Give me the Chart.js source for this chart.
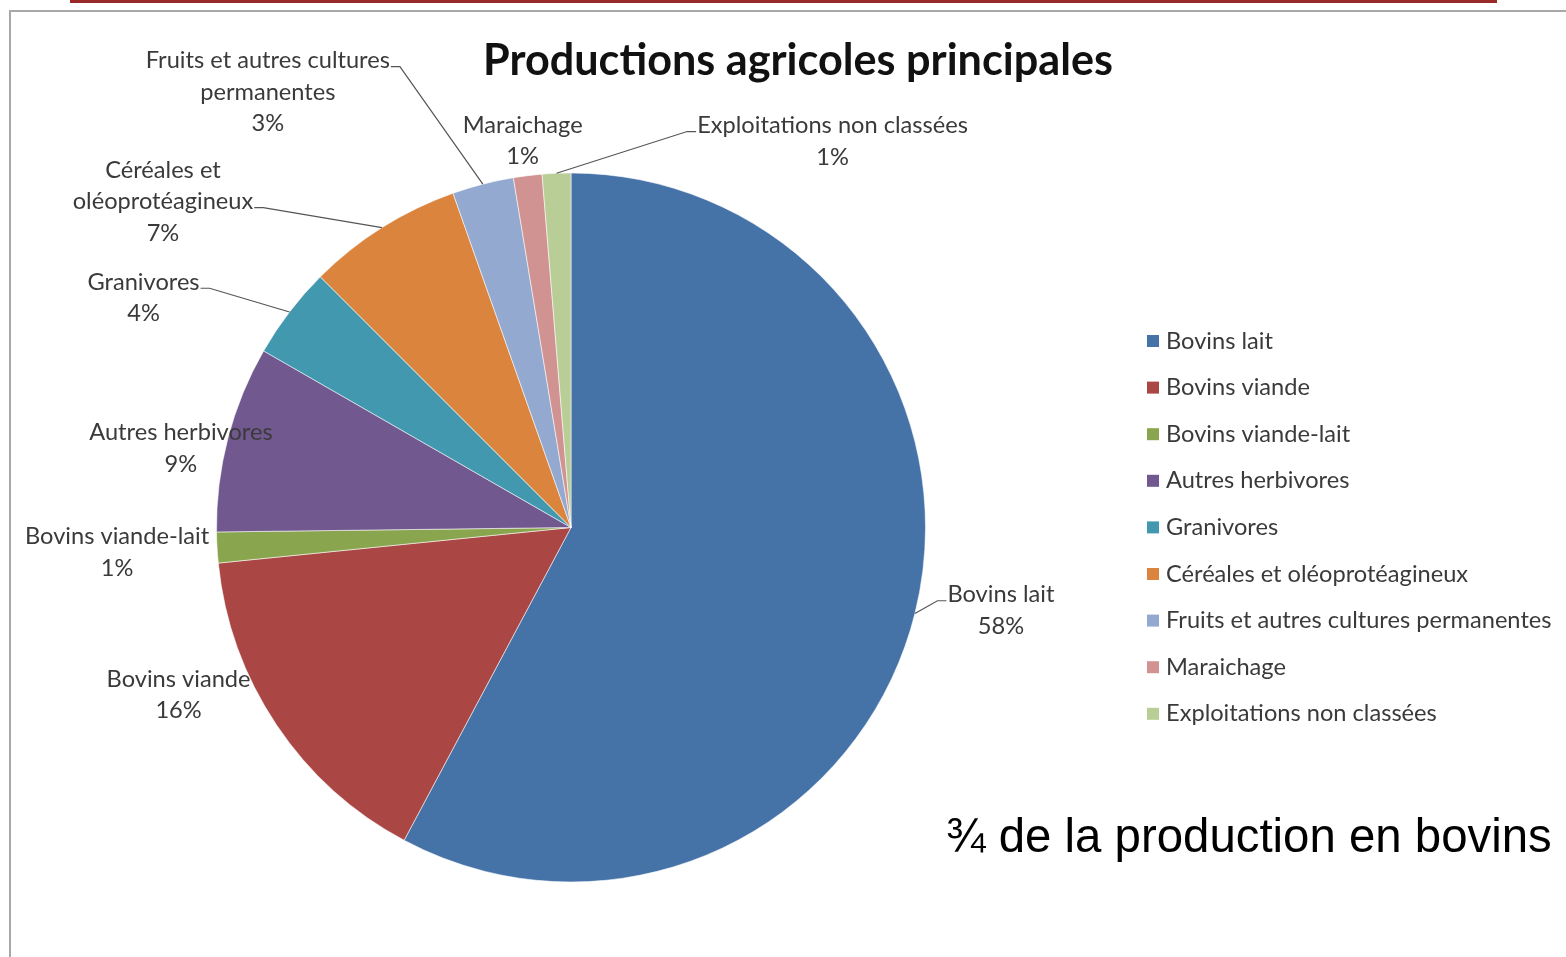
<!DOCTYPE html>
<html lang="fr">
<head>
<meta charset="utf-8">
<title>Productions agricoles principales</title>
<script src="https://cdn.jsdelivr.net/npm/chart.js@4.4.0/dist/chart.umd.min.js"></script>
<style>
  html, body { margin: 0; padding: 0; background: #fff; }
  body { width: 1566px; height: 957px; position: relative; overflow: hidden; }
  #topRule { position: absolute; left: 70px; top: 0; width: 1427px; height: 3px; background: #9a2a2a; }
  #frame { position: absolute; left: 9px; top: 10px; right: 0; bottom: 0;
           border-left: 2px solid #a8a8a8; border-top: 2px solid #a8a8a8; }
  #chart { position: absolute; left: 0; top: 0; }
</style>
</head>
<body>
<div id="topRule"></div>
<div id="frame"></div>
<canvas id="chart" width="1566" height="957"></canvas>
<script>
// --- data ---
const categories = [
  'Bovins lait', 'Bovins viande', 'Bovins viande-lait', 'Autres herbivores',
  'Granivores', 'Céréales et oléoprotéagineux', 'Fruits et autres cultures permanentes',
  'Maraichage', 'Exploitations non classées'
];
const shares = [57.8, 15.6, 1.4, 8.5, 4.2, 7.1, 2.8, 1.3, 1.3];
// wrapped names used in the data labels
const labelLines = [
  ['Bovins lait'], ['Bovins viande'], ['Bovins viande-lait'], ['Autres herbivores'],
  ['Granivores'], ['Céréales et', 'oléoprotéagineux'], ['Fruits et autres cultures', 'permanentes'],
  ['Maraichage'], ['Exploitations non classées']
];

// --- styles ---
const sliceColors = ['#4572a7', '#aa4643', '#89a54e', '#71588f', '#4198af',
                     '#db843d', '#93a9cf', '#d19392', '#b9cd96'];
// label offset from the slice's outer mid point
const labelOffsets = [[86, -3], [-98, -30], [-100, 5], [-47, 10], [-146, -14],
                      [-219, -26], [-215, -92], [-5, -35], [276, -32]];
// which labels get a leader line, and where it attaches
const leaders = [
  { line: 0, side: 'left' }, null, null, null, { line: 0, side: 'right' },
  { line: 1, side: 'right' }, { line: 0, side: 'right' }, null, { line: 0, side: 'left' }
];

const LABEL_FONT = 'Lato, "Open Sans", sans-serif';
const TEXT_COLOR = '#3a3a3a';

// size a font so a string fits a target width
function fitSize(text, family, weight, target) {
  const c = document.createElement('canvas').getContext('2d');
  c.font = `${weight} 100px ${family}`;
  return 100 * target / c.measureText(text).width;
}
const labelSize = fitSize('Exploitations non classées', LABEL_FONT, 'normal', 271);
const titleSize = fitSize('Productions agricoles principales', LABEL_FONT, 'bold', 630);
const noteSize = fitSize('¾ de la production en bovins', '"Liberation Sans", Arial, sans-serif', 'normal', 606);

const pieLabels = {
  id: 'pieLabels',
  afterDatasetsDraw(chart) {
    const { ctx } = chart;
    const arcs = chart.getDatasetMeta(0).data;
    const values = chart.data.datasets[0].data;
    const total = values.reduce((a, b) => a + b, 0);
    const lh = 31.5;
    ctx.save();
    ctx.font = `${labelSize}px ${LABEL_FONT}`;
    ctx.textAlign = 'center';
    ctx.textBaseline = 'middle';
    arcs.forEach((arc, i) => {
      const p = arc.getProps(['x', 'y', 'startAngle', 'endAngle', 'outerRadius'], true);
      const mid = (p.startAngle + p.endAngle) / 2;
      const ax = p.x + Math.cos(mid) * p.outerRadius;
      const ay = p.y + Math.sin(mid) * p.outerRadius;
      const cx = ax + labelOffsets[i][0];
      const cy = ay + labelOffsets[i][1];
      const lines = labelLines[i].concat([Math.round(values[i] / total * 100) + '%']);
      const top = cy - (lines.length - 1) * lh / 2;

      const ld = leaders[i];
      if (ld) {
        const w = ctx.measureText(lines[ld.line]).width;
        const ly = top + ld.line * lh + 6;
        const lx = ld.side === 'right' ? cx + w / 2 + 1 : cx - w / 2 - 1;
        const ex = ld.side === 'right' ? lx + 9 : lx - 9;
        ctx.beginPath();
        ctx.moveTo(lx, ly);
        ctx.lineTo(ex, ly);
        ctx.lineTo(ax, ay);
        ctx.strokeStyle = '#555';
        ctx.lineWidth = 1.2;
        ctx.stroke();
      }

      ctx.fillStyle = TEXT_COLOR;
      lines.forEach((t, k) => ctx.fillText(t, cx, top + k * lh));
    });
    ctx.restore();
  },
  afterDraw(chart) {
    const { ctx } = chart;
    const colors = chart.data.datasets[0].backgroundColor;
    ctx.save();
    // title
    ctx.fillStyle = '#111';
    ctx.textAlign = 'center';
    ctx.textBaseline = 'alphabetic';
    ctx.font = `bold ${titleSize}px ${LABEL_FONT}`;
    ctx.fillText('Productions agricoles principales', 798, 75);

    // legend
    ctx.textAlign = 'left';
    ctx.textBaseline = 'middle';
    ctx.font = `${labelSize}px ${LABEL_FONT}`;
    chart.data.labels.forEach((name, i) => {
      const y = 341 + i * 46.6;
      ctx.fillStyle = colors[i];
      ctx.fillRect(1147, y - 6, 12, 12);
      ctx.fillStyle = TEXT_COLOR;
      ctx.fillText(name, 1166, y);
    });

    // note
    ctx.fillStyle = '#000';
    ctx.textBaseline = 'alphabetic';
    ctx.font = `${noteSize}px "Liberation Sans", Arial, sans-serif`;
    ctx.fillText('¾ de la production en bovins', 946, 852);
    ctx.restore();
  }
};

new Chart(document.getElementById('chart'), {
  type: 'pie',
  data: {
    labels: categories,
    datasets: [{
      data: shares,
      backgroundColor: sliceColors,
      borderColor: 'rgba(255,255,255,0.55)',
      borderWidth: 1
    }]
  },
  options: {
    responsive: false,
    animation: false,
    layout: { padding: { left: 216, right: 640, top: 172, bottom: 74 } },
    plugins: {
      legend: { display: false },
      tooltip: { enabled: false }
    }
  },
  plugins: [pieLabels]
});
</script>
</body>
</html>
